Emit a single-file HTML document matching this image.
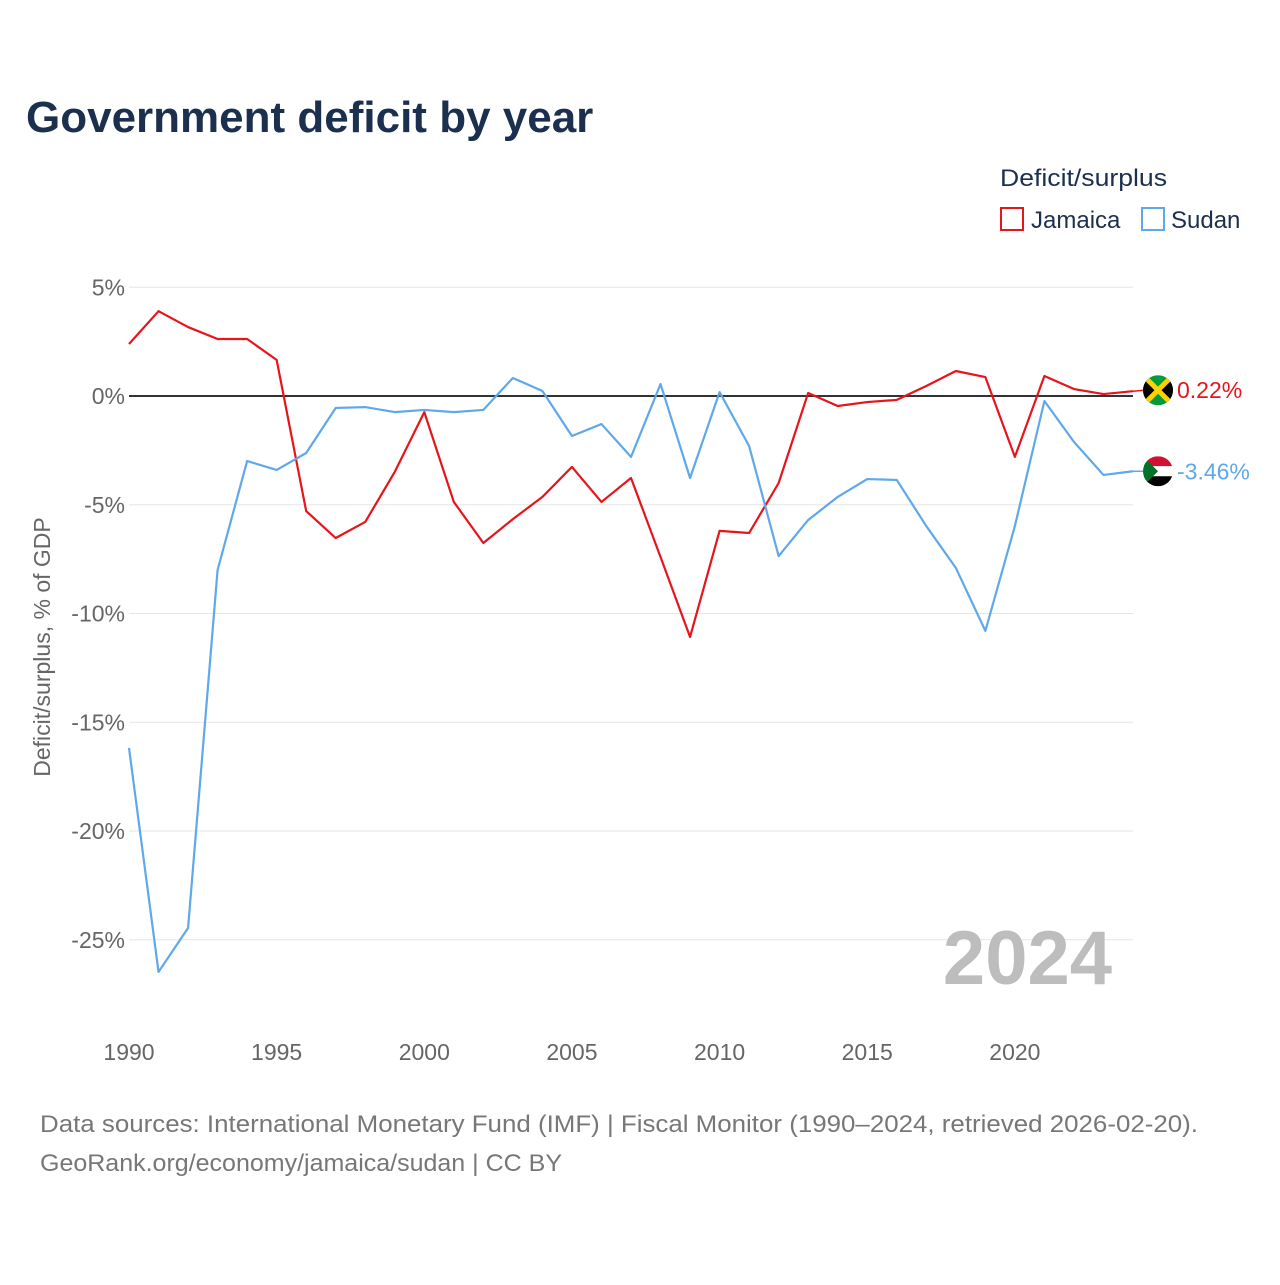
<!DOCTYPE html>
<html><head><meta charset="utf-8">
<style>
body{margin:0;background:#fff;font-family:"Liberation Sans",sans-serif;}
#wrap{position:relative;width:1280px;height:1280px;}
</style></head>
<body>
<div id="wrap">
<svg id="chart" width="1280" height="1280">
<text x="26" y="132" font-size="44" font-weight="bold" fill="#1b2f4e">Government deficit by year</text>
<text x="1000" y="186" font-size="24" fill="#1b2f4e" textLength="167" lengthAdjust="spacingAndGlyphs">Deficit/surplus</text>
<g>
<rect x="1001" y="208" width="22" height="22" fill="none" stroke="#e8141b" stroke-width="2"/>
<text x="1031" y="228" font-size="24" fill="#1b2f4e">Jamaica</text></g>
<g>
<rect x="1142" y="208" width="22" height="22" fill="none" stroke="#5fa8ea" stroke-width="2"/>
<text x="1171" y="228" font-size="24" fill="#1b2f4e">Sudan</text></g>
<g id="grid"></g>
<text x="1112" y="984" font-size="76" font-weight="bold" fill="#bdbdbd" text-anchor="end">2024</text>
<text transform="translate(50,647) rotate(-90)" font-size="23" fill="#666" text-anchor="middle">Deficit/surplus, % of GDP</text>
<g id="series"></g>
<text x="40" y="1132" font-size="24" fill="#777" textLength="1158" lengthAdjust="spacingAndGlyphs">Data sources: International Monetary Fund (IMF) | Fiscal Monitor (1990–2024, retrieved 2026-02-20).</text>
<text x="40" y="1171" font-size="24" fill="#777" textLength="522" lengthAdjust="spacingAndGlyphs">GeoRank.org/economy/jamaica/sudan | CC BY</text>
</svg>
</div>
<script>
const years=[1990,1991,1992,1993,1994,1995,1996,1997,1998,1999,2000,2001,2002,2003,2004,2005,2006,2007,2008,2009,2010,2011,2012,2013,2014,2015,2016,2017,2018,2019,2020,2021,2022,2023,2024];
const jamaica=[2.39,3.9,3.17,2.62,2.62,1.66,-5.29,-6.53,-5.79,-3.49,-0.74,-4.87,-6.76,-5.66,-4.64,-3.26,-4.87,-3.77,-7.4,-11.08,-6.2,-6.3,-4.0,0.14,-0.46,-0.28,-0.18,0.46,1.15,0.87,-2.8,0.92,0.32,0.09,0.22];
const sudan=[-16.18,-26.48,-24.46,-8.0,-2.99,-3.4,-2.62,-0.55,-0.51,-0.74,-0.64,-0.74,-0.64,0.83,0.23,-1.84,-1.29,-2.8,0.55,-3.77,0.18,-2.3,-7.36,-5.7,-4.64,-3.82,-3.86,-5.98,-7.9,-10.8,-5.98,-0.23,-2.11,-3.63,-3.46];
const yTicks=[5,0,-5,-10,-15,-20,-25];
const yTickLabels=["5%","0%","-5%","-10%","-15%","-20%","-25%"];
const xTicks=[1990,1995,2000,2005,2010,2015,2020];
const NS="http://www.w3.org/2000/svg";
const x=v=>129+(v-1990)*(1133-129)/34;
const y=v=>396-v*21.75;
function mk(tag,attrs,parent){const e=document.createElementNS(NS,tag);for(const k in attrs)e.setAttribute(k,attrs[k]);parent.appendChild(e);return e;}
const grid=document.getElementById('grid');
yTicks.forEach((t,i)=>{
  const l=mk('line',{x1:129,x2:1133,y1:y(t),y2:y(t),stroke:t===0?'#333':'#e6e6e6','stroke-width':t===0?2:1},grid);
  
  
  const tx=mk('text',{x:125,y:y(t)+8,'font-size':23,fill:'#666','text-anchor':'end'},grid);
  tx.textContent=yTickLabels[i];
  
  
});
xTicks.forEach(t=>{
  const tx=mk('text',{x:x(t),y:1060,'font-size':23,fill:'#666','text-anchor':'middle'},grid);
  tx.textContent=t;
  
  
});
const s=document.getElementById('series');
function line(vals,color,name){
  const p=mk('polyline',{points:vals.map((v,i)=>x(years[i])+','+y(v)).join(' '),fill:'none',stroke:color,'stroke-width':2.2,'stroke-linejoin':'round'},s);
  
  
}
line(jamaica,'#e8141b','jamaica-line');
line(sudan,'#5fa8ea','sudan-line');
const jv=jamaica[jamaica.length-1], sv=sudan[sudan.length-1];
const jy=y(jv)-1, sy=y(sv);
mk('line',{x1:1133,x2:1145,y1:y(jv),y2:jy,stroke:'#e8141b','stroke-width':1.5},s);
mk('line',{x1:1133,x2:1145,y1:sy,y2:sy,stroke:'#5fa8ea','stroke-width':1.5},s);
const jf=mk('g',{},s);


const cj=mk('clipPath',{id:'cj'},jf);mk('circle',{cx:1158,cy:jy,r:15},cj);
const jg=mk('g',{'clip-path':'url(#cj)'},jf);
mk('rect',{x:1143,y:jy-15,width:30,height:30,fill:'#009b3a'},jg);
mk('polygon',{points:`1143,${jy-15} 1158,${jy} 1143,${jy+15}`,fill:'#000'},jg);
mk('polygon',{points:`1173,${jy-15} 1158,${jy} 1173,${jy+15}`,fill:'#000'},jg);
mk('line',{x1:1143,y1:jy-15,x2:1173,y2:jy+15,stroke:'#fed100','stroke-width':5},jg);
mk('line',{x1:1173,y1:jy-15,x2:1143,y2:jy+15,stroke:'#fed100','stroke-width':5},jg);
const sf=mk('g',{},s);


const cs=mk('clipPath',{id:'cs'},sf);mk('circle',{cx:1158,cy:sy,r:15},cs);
const sg=mk('g',{'clip-path':'url(#cs)'},sf);
mk('rect',{x:1143,y:sy-15,width:30,height:10,fill:'#d21034'},sg);
mk('rect',{x:1143,y:sy-5,width:30,height:10,fill:'#fff'},sg);
mk('rect',{x:1143,y:sy+5,width:30,height:10,fill:'#000'},sg);
mk('polygon',{points:`1143,${sy-15} 1158,${sy} 1143,${sy+15}`,fill:'#007229'},sg);
const jt=mk('text',{x:1177,y:jy+8,'font-size':23,fill:'#e8141b'},s);
jt.textContent=jv.toFixed(2)+'%';


const st=mk('text',{x:1177,y:sy+8,'font-size':23,fill:'#5fa8ea'},s);
st.textContent=sv.toFixed(2)+'%';


</script>
</body></html>
